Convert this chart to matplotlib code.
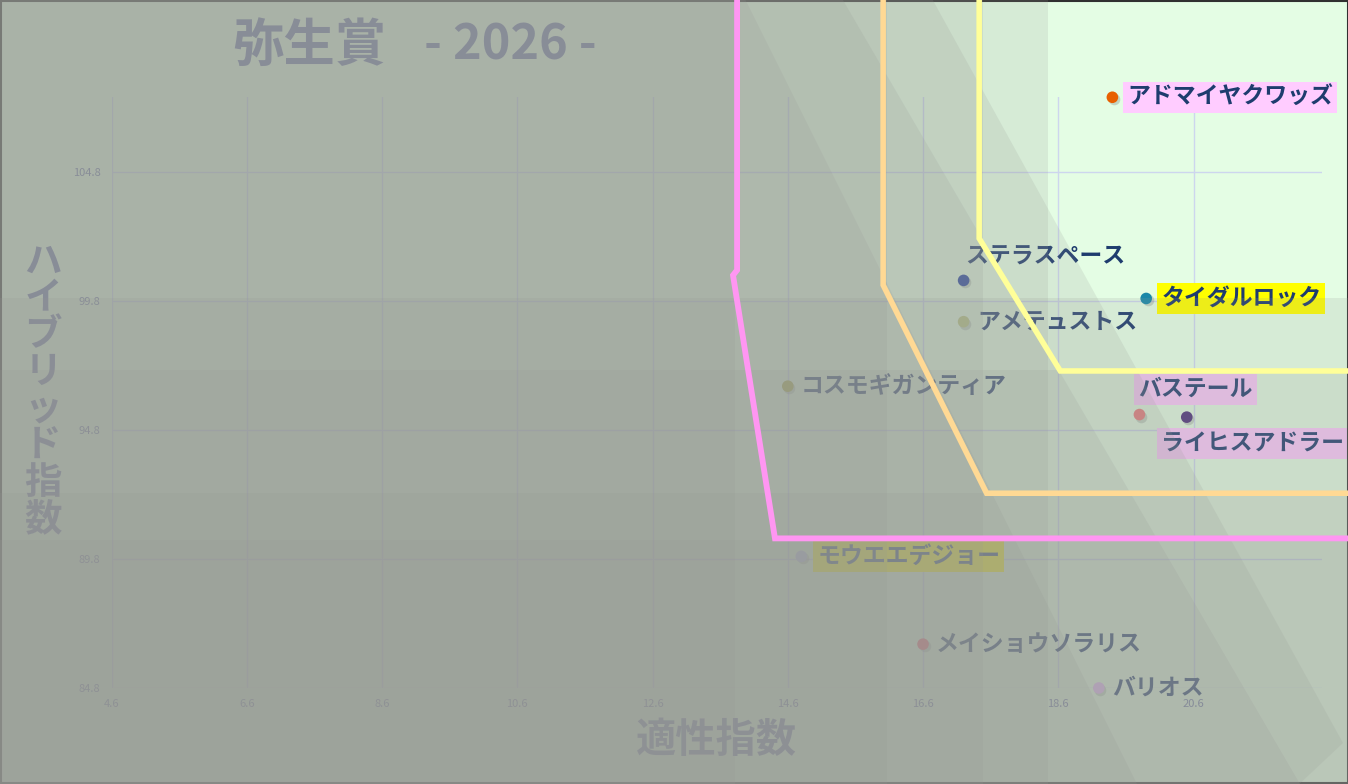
import matplotlib
matplotlib.use("Agg")
import matplotlib.pyplot as plt
from matplotlib.patches import Polygon, Rectangle
from matplotlib import transforms

plt.rcParams['font.family'] = ['Noto Sans CJK JP', 'DejaVu Sans']

W, H = 1348, 784

# values
horses = ["アドマイヤクワッズ", "ステラスペース", "タイダルロック", "アメテュストス",
          "コスモギガンティア", "バステール", "ライヒスアドラー", "モウエエデジョー",
          "メイショウソラリス", "バリオス"]
aptitude = [19.4, 17.2, 19.9, 17.2, 14.6, 19.8, 20.5, 14.8, 16.6, 19.2]
hybrid = [107.7, 100.6, 99.9, 99.0, 96.5, 95.4, 95.3, 89.9, 86.5, 84.8]
dot_colors = ["#e86000", "#2040a0", "#1a88a8", "#bccc80", "#a8b040",
              "#f07878", "#4a2c7a", "#b8c0f0", "#f06070", "#e8b8f8"]
label_bg = ["#ffccff", None, "#ffff00", None, None,
            "#ffccff", "#ffccff", "#ffff00", None, None]
# label offset from its dot, in pixels
label_off = [(15, 0), (2, 23), (15, 0), (14, 0), (13, 0),
             (-1, 25), (-26, -26), (16, 0), (13, 0), (13, 0)]

xticks = [4.6, 6.6, 8.6, 10.6, 12.6, 14.6, 16.6, 18.6, 20.6]
yticks = [84.8, 89.8, 94.8, 99.8, 104.8]

# boundary polylines (data coords, run off the plot to the figure edge)
pink_x = [13.85, 13.85, 13.79, 14.41, 25.0]
pink_y = [115.0, 101.0, 100.8, 90.6, 90.6]
orange_x = [16.01, 16.01, 17.54, 25.0]
orange_y = [115.0, 100.42, 92.35, 92.35]
yellow_x = [17.43, 17.43, 18.63, 25.0]
yellow_y = [115.0, 102.23, 97.09, 97.09]

# translucent shading bands (figure pixels, origin top-left)
vbands = [735, 887, 983, 1048]
hbands = [298, 370, 493, 540]
diag_bands = [
    [(-5, -5), (743, -5), (1137, 784), (1137, 800), (-5, 800)],
    [(-5, -5), (840, -5), (1300, 784), (1300, 800), (-5, 800)],
    [(-5, -5), (930, -5), (1343, 743), (1293, 790), (-5, 790)],
]
SHADE, SHADE_A = "#969894", 0.17

TXT = "#1e3c6e"
AXC = "#6a78a8"

fig = plt.figure(figsize=(W / 100, H / 100), dpi=100, facecolor="#e4fde4")
pix = transforms.Affine2D().scale(1.0 / W, -1.0 / H).translate(0, 1) + fig.transFigure

ax = fig.add_axes([111.6 / W, (H - 688) / H, (1322 - 111.6) / W, (688 - 97) / H])
ax.set_facecolor("none")
ax.set_xlim(4.6, 22.5)
ax.set_ylim(84.8, 107.71)
ax.set_xticks(xticks)
ax.set_yticks(yticks)
ax.set_xticklabels([f"{v:.1f}" for v in xticks])
ax.set_yticklabels([f"{v:.1f}" for v in yticks])
ax.tick_params(length=0, labelsize=8, labelcolor=AXC, pad=8)
for s in ax.spines.values():
    s.set_visible(False)
ax.grid(color="#cdd6ee", lw=1)
ax.set_axisbelow(True)

# soft drop shadow under the dots
shift = transforms.ScaledTranslation(1.5 / 100, -2 / 100, fig.dpi_scale_trans)
ax.scatter(aptitude, hybrid, s=70, c="#606060", alpha=0.25, zorder=2.9, clip_on=False,
           lw=0, transform=ax.transData + shift)
ax.scatter(aptitude, hybrid, s=70, c=dot_colors, zorder=3, clip_on=False, lw=0)
for name, x, y, bg, off in zip(horses, aptitude, hybrid, label_bg, label_off):
    bb = dict(boxstyle="square,pad=0.18", fc=bg, ec="none") if bg else None
    ax.annotate(name, (x, y), xytext=off, textcoords="offset pixels",
                ha="left", va="center", fontsize=16.5, fontweight="bold",
                color=TXT, bbox=bb, zorder=4, annotation_clip=False)

ax.text(232 / W, 1 - 45 / H, "弥生賞", transform=fig.transFigure,
        ha="left", va="center", fontsize=37, fontweight="bold", color=AXC)
ax.text(424 / W, 1 - 45 / H, "- 2026 -", transform=fig.transFigure,
        ha="left", va="center", fontsize=35, fontweight="bold", color=AXC)
ax.text(43 / W, 1 - 390 / H, "\n".join("ハイブリッド指数"), transform=fig.transFigure,
        ha="center", va="center", fontsize=27, fontweight="bold", color=AXC,
        linespacing=0.93)
ax.text(716 / W, 1 - 741 / H, "適性指数", transform=fig.transFigure,
        ha="center", va="center", fontsize=29, fontweight="bold", color=AXC)

# frame
ax.add_artist(Rectangle((0.5, 0.5), W - 1, H - 1, transform=pix, fill=False,
                        ec="#303030", lw=1.5, zorder=9, clip_on=False))

# shading on top of the chart
for b in vbands:
    ax.add_artist(Rectangle((-5, -5), b + 5, H + 10, transform=pix, fc=SHADE,
                            alpha=SHADE_A, lw=0, zorder=10, clip_on=False))
for b in hbands:
    ax.add_artist(Rectangle((-5, b), W + 10, H - b + 5, transform=pix, fc=SHADE,
                            alpha=SHADE_A, lw=0, zorder=10, clip_on=False))
for poly in diag_bands:
    ax.add_artist(Polygon(poly, closed=True, transform=pix, fc=SHADE,
                          alpha=SHADE_A, lw=0, zorder=10, clip_on=False))

ax.plot(pink_x, pink_y, color="#ff96f2", lw=4.2, zorder=20, clip_on=False,
        solid_joinstyle="miter")
ax.plot(orange_x, orange_y, color="#ffd994", lw=4.0, zorder=20, clip_on=False,
        solid_joinstyle="miter")
ax.plot(yellow_x, yellow_y, color="#ffff99", lw=4.0, zorder=20, clip_on=False,
        solid_joinstyle="miter")

fig.savefig("out.png", dpi=100, facecolor=fig.get_facecolor())
